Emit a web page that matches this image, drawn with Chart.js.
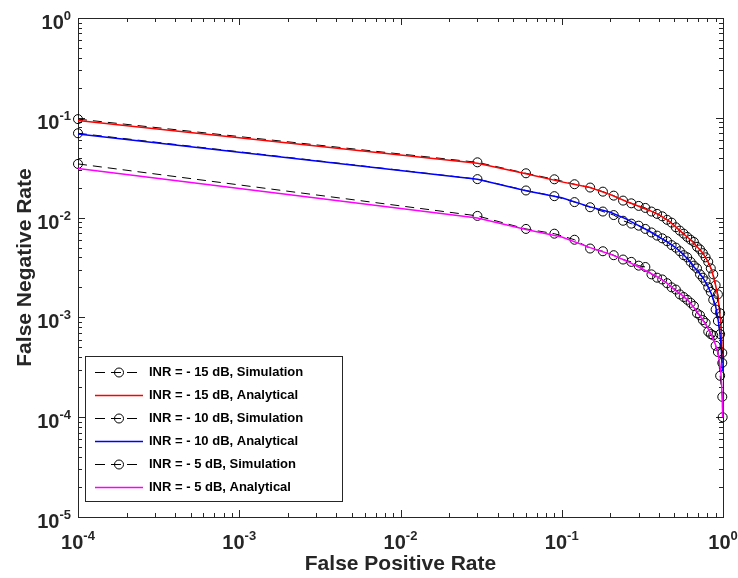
<!DOCTYPE html>
<html><head><meta charset="utf-8">
<script src="https://cdn.jsdelivr.net/npm/chart.js@4/dist/chart.umd.min.js"></script>
<style>html,body{margin:0;padding:0;background:#fff;}#wrap{width:738px;height:578px;}</style>
</head><body><div id="wrap"><canvas id="c" width="738" height="578"></canvas></div>
<script>
// ---- data ----
const fprSim = [1e-4, 0.03, 0.06, 0.09, 0.12, 0.15, 0.18, 0.21, 0.24, 0.27, 0.30, 0.33, 0.36, 0.39, 0.42, 0.45, 0.48, 0.51, 0.54, 0.57, 0.60, 0.63, 0.66, 0.69, 0.72, 0.75, 0.78, 0.81, 0.84, 0.87, 0.90, 0.93, 0.96, 0.99, 0.995];
const fnrSim15 = [0.097, 0.0358, 0.0278, 0.0242, 0.0216, 0.0200, 0.0182, 0.0166, 0.0148, 0.0139, 0.0131, 0.0125, 0.0115, 0.0109, 0.0103, 0.0095, 0.0089, 0.0080, 0.0074, 0.0069, 0.0064, 0.0060, 0.0057, 0.0051, 0.0048, 0.0044, 0.0040, 0.0036, 0.0031, 0.0027, 0.0021, 0.0017, 0.0011, 0.00044, null];
const fnrSim10 = [0.070, 0.0243, 0.0187, 0.0164, 0.0143, 0.0127, 0.0115, 0.0106, 0.0093, 0.0087, 0.0083, 0.0077, 0.0071, 0.0066, 0.0062, 0.0058, 0.0053, 0.0050, 0.0046, 0.0042, 0.0040, 0.0036, 0.0033, 0.0031, 0.0027, 0.0025, 0.0023, 0.0020, 0.0018, 0.0015, 0.0012, 0.00092, 0.00068, 0.00035, null];
const fnrSim5 = [0.0345, 0.0104, 0.0077, 0.0069, 0.0060, 0.0049, 0.0046, 0.0042, 0.0038, 0.0036, 0.0033, 0.0032, 0.0027, 0.0025, 0.0024, 0.0022, 0.0020, 0.0019, 0.0017, 0.0016, 0.0015, 0.0014, 0.0013, 0.0011, 0.00105, 0.00094, 0.00088, 0.00072, 0.00068, 0.00066, 0.00052, 0.00045, 0.00026, 0.00016, 0.0001];

const fprAna = [1e-4, 0.03, 0.06, 0.1, 0.15, 0.2, 0.25, 0.3, 0.35, 0.4, 0.45, 0.5, 0.55, 0.6, 0.65, 0.7, 0.75, 0.8, 0.85, 0.9, 0.93, 0.95, 0.97, 0.98, 0.99, 0.995];
const fnrAna15 = [0.094, 0.035, 0.0275, 0.0228, 0.0200, 0.0170, 0.0146, 0.0130, 0.0118, 0.0107, 0.0095, 0.0083, 0.0072, 0.0064, 0.0057, 0.0050, 0.0044, 0.0037, 0.0030, 0.0021, 0.0016, 0.0012, 0.00085, 0.00065, 0.00038, null];
const fnrAna10 = [0.069, 0.0242, 0.0186, 0.0158, 0.0128, 0.0113, 0.0097, 0.0083, 0.0073, 0.0064, 0.0057, 0.0051, 0.0045, 0.0039, 0.0033, 0.0029, 0.0025, 0.0021, 0.0017, 0.0013, 0.00098, 0.00077, 0.00055, 0.00042, 0.00029, null];
const fnrAna5 = [0.031, 0.0099, 0.0076, 0.0064, 0.0050, 0.0043, 0.0037, 0.0032, 0.0028, 0.0025, 0.0022, 0.0019, 0.0017, 0.0015, 0.0013, 0.0011, 0.00094, 0.00080, 0.00066, 0.00053, 0.00044, 0.00036, 0.00028, 0.00022, 0.00015, 0.0001];

const seriesLabels = ['INR = - 15 dB, Simulation', 'INR = - 15 dB, Analytical', 'INR = - 10 dB, Simulation', 'INR = - 10 dB, Analytical', 'INR = - 5 dB, Simulation', 'INR = - 5 dB, Analytical'];
const xTickValues = [1e-4, 1e-3, 1e-2, 1e-1, 1];
const xTickExponents = ['-4', '-3', '-2', '-1', '0'];
const yTickValues = [1e-5, 1e-4, 1e-3, 1e-2, 1e-1, 1];
const yTickExponents = ['-5', '-4', '-3', '-2', '-1', '0'];
const xTitle = 'False Positive Rate';
const yTitle = 'False Negative Rate';

// ---- styling ----
const FONT = '"Liberation Sans", Arial, Helvetica, sans-serif';
const AX = '#262626';
const toXY = (xs, ys) => xs.map((v, i) => ({x: v, y: ys[i]}));

function simSet(label, ys, order) {
  return {label, data: toXY(fprSim, ys), borderColor: '#000', borderWidth: 1, borderDash: [9, 6],
    pointStyle: 'circle', pointRadius: 4.5, pointHoverRadius: 4.5, pointBorderColor: '#000',
    pointBackgroundColor: 'rgba(0,0,0,0)', pointBorderWidth: 1, tension: 0, fill: false,
    clip: false, order, spanGaps: false, isSim: true};
}
function anaSet(label, ys, color, order) {
  return {label, data: toXY(fprAna, ys), borderColor: color, borderWidth: 1.5, pointRadius: 0,
    pointHoverRadius: 0, tension: 0, fill: false, clip: false, order, spanGaps: false, isSim: false};
}

const datasets = [
  simSet(seriesLabels[0], fnrSim15, 6),
  anaSet(seriesLabels[1], fnrAna15, '#ff0000', 5),
  simSet(seriesLabels[2], fnrSim10, 4),
  anaSet(seriesLabels[3], fnrAna10, '#0000ff', 3),
  simSet(seriesLabels[4], fnrSim5, 2),
  anaSet(seriesLabels[5], fnrAna5, '#ff00ff', 1)
];

const axesPlugin = {
  id: 'matlabAxes',
  beforeDatasetsDraw(chart) {
    const {ctx, chartArea: a, scales: {x, y}} = chart;
    ctx.save();
    ctx.strokeStyle = AX; ctx.lineWidth = 1;
    ctx.beginPath();
    for (let d = -4; d <= 0; d++) {
      for (let k = 1; k <= 9; k++) {
        const v = k * Math.pow(10, d);
        if (v > 1.0000001) break;
        const px = Math.round(x.getPixelForValue(v)) + 0.5;
        const len = k === 1 ? 7 : 4;
        ctx.moveTo(px, a.bottom); ctx.lineTo(px, a.bottom - len);
        ctx.moveTo(px, a.top); ctx.lineTo(px, a.top + len);
      }
    }
    for (let d = -5; d <= 0; d++) {
      for (let k = 1; k <= 9; k++) {
        const v = k * Math.pow(10, d);
        if (v > 1.0000001) break;
        const py = Math.round(y.getPixelForValue(v)) + 0.5;
        const len = k === 1 ? 7 : 4;
        ctx.moveTo(a.left, py); ctx.lineTo(a.left + len, py);
        ctx.moveTo(a.right, py); ctx.lineTo(a.right - len, py);
      }
    }
    ctx.stroke();
    ctx.strokeRect(Math.round(a.left) + 0.5, Math.round(a.top) + 0.5, Math.round(a.right - a.left), Math.round(a.bottom - a.top));

    ctx.fillStyle = AX;
    ctx.textBaseline = 'alphabetic';
    const baseFont = 'bold 20px ' + FONT, expFont = 'bold 13px ' + FONT;
    xTickValues.forEach((v, i) => {
      const px = x.getPixelForValue(v);
      ctx.font = baseFont; const wb = ctx.measureText('10').width;
      ctx.font = expFont; const we = ctx.measureText(xTickExponents[i]).width;
      const start = px - (wb + we) / 2;
      ctx.textAlign = 'left';
      ctx.font = baseFont; ctx.fillText('10', start, a.bottom + 32);
      ctx.font = expFont; ctx.fillText(xTickExponents[i], start + wb, a.bottom + 23);
    });
    yTickValues.forEach((v, i) => {
      const py = y.getPixelForValue(v);
      const right = a.left - 7;
      ctx.textAlign = 'right';
      ctx.font = expFont; const we = ctx.measureText(yTickExponents[i]).width;
      ctx.fillText(yTickExponents[i], right, py + 2);
      ctx.font = baseFont; ctx.fillText('10', right - we, py + 11);
    });

    ctx.font = 'bold 21px ' + FONT;
    ctx.textAlign = 'center'; ctx.textBaseline = 'middle';
    ctx.fillText(xTitle, (a.left + a.right) / 2, a.bottom + 47);
    ctx.save();
    ctx.translate(25, (a.top + a.bottom) / 2);
    ctx.rotate(-Math.PI / 2);
    ctx.fillText(yTitle, 0, 0);
    ctx.restore();
    ctx.restore();
  },
  afterDatasetsDraw(chart) {
    const {ctx, chartArea: a} = chart;
    const ds = chart.data.datasets;
    const bx = a.left + 7, by = a.bottom - 161, bw = 257, bh = 145;
    ctx.save();
    ctx.fillStyle = '#fff';
    ctx.fillRect(bx, by, bw, bh);
    ctx.strokeStyle = AX; ctx.lineWidth = 1;
    ctx.strokeRect(bx + 0.5, by + 0.5, bw, bh);
    ctx.font = 'bold 13px ' + FONT;
    ctx.textBaseline = 'middle'; ctx.textAlign = 'left';
    ds.forEach((d, i) => {
      const cy = Math.round(by + 16 + i * 23) + 0.5;
      const x0 = bx + 10, x1 = bx + 58;
      ctx.strokeStyle = d.borderColor;
      ctx.lineWidth = d.borderWidth;
      ctx.setLineDash(d.isSim ? [10, 6] : []);
      ctx.beginPath(); ctx.moveTo(x0, cy); ctx.lineTo(x1, cy); ctx.stroke();
      ctx.setLineDash([]);
      if (d.isSim) {
        ctx.beginPath(); ctx.arc((x0 + x1) / 2, cy, 4.5, 0, Math.PI * 2);
        ctx.strokeStyle = '#000'; ctx.lineWidth = 1; ctx.stroke();
      }
      ctx.fillStyle = '#000';
      ctx.fillText(d.label, x1 + 6, cy);
    });
    ctx.restore();
  }
};

new Chart(document.getElementById('c'), {
  type: 'line',
  data: {datasets},
  options: {
    responsive: false,
    animation: false,
    devicePixelRatio: 1,
    layout: {padding: {left: 78, top: 18, right: 15, bottom: 61}},
    plugins: {legend: {display: false}, tooltip: {enabled: false}},
    events: [],
    scales: {
      x: {type: 'logarithmic', min: 1e-4, max: 1, display: false},
      y: {type: 'logarithmic', min: 1e-5, max: 1, display: false}
    }
  },
  plugins: [axesPlugin]
});
</script>
</body></html>
